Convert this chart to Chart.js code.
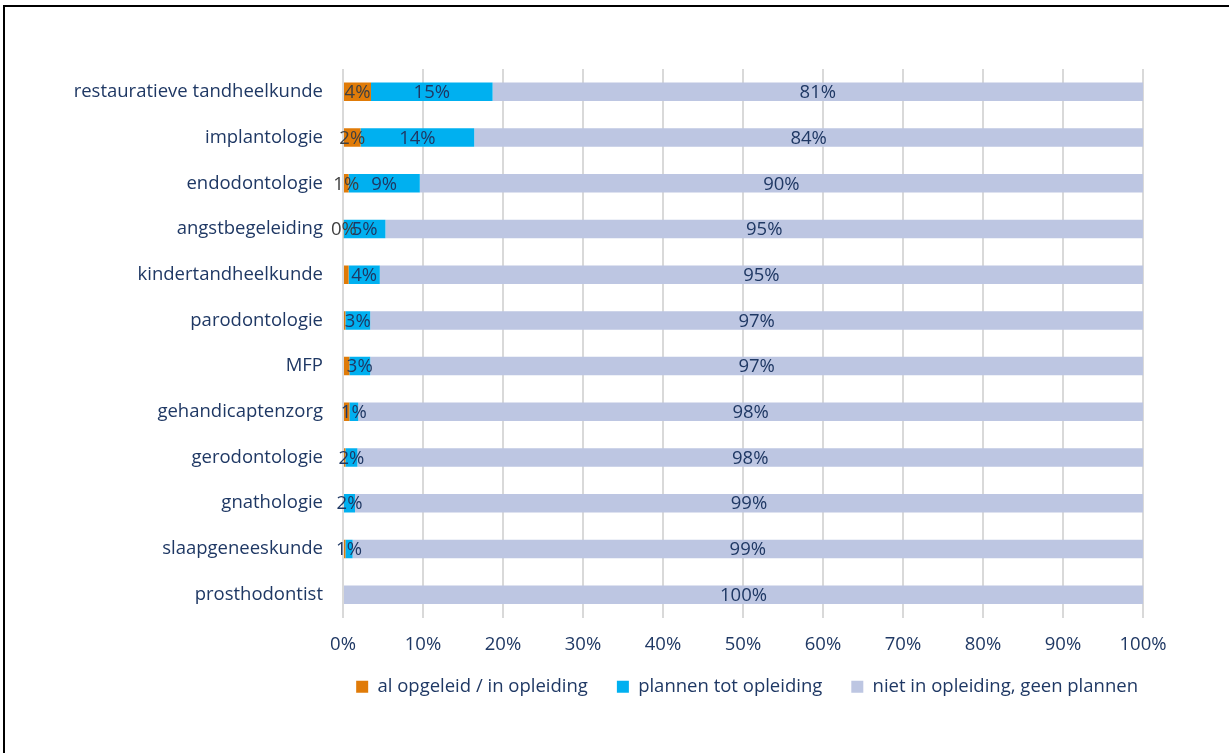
<!DOCTYPE html>
<html>
<head>
<meta charset="utf-8">
<script src="https://cdn.jsdelivr.net/npm/chart.js@4/dist/chart.umd.min.js"></script>
<style>
  html, body { margin: 0; padding: 0; background: #fff; }
  #wrap { width: 1229px; height: 753px; position: relative; }
</style>
</head>
<body>
<div id="wrap"><canvas id="chart" width="1229" height="753"></canvas></div>
<script>
const categories = [
  "restauratieve tandheelkunde", "implantologie", "endodontologie", "angstbegeleiding",
  "kindertandheelkunde", "parodontologie", "MFP", "gehandicaptenzorg",
  "gerodontologie", "gnathologie", "slaapgeneeskunde", "prosthodontist"
];
const seriesNames = ["al opgeleid / in opleiding", "plannen tot opleiding", "niet in opleiding, geen plannen"];

const opgeleid = [3.5, 2.2, 0.7, 0.1, 0.7, 0.3, 0.8, 0.8, 0.3, 0, 0.3, 0];
const plannen = [15.2, 14.2, 8.9, 5.2, 3.9, 3.1, 2.6, 1.1, 1.5, 1.5, 0.9, 0];
const geenPlannen = [81.3, 83.6, 90.4, 94.7, 95.4, 96.6, 96.6, 98.1, 98.2, 98.5, 98.8, 100];
// labels of the orange series that are visible in the picture
const opgeleidLabels = ["4%", "2%", "1%", "0%", "", "", "", "", "", "", "", ""];

const xTicks = [0, 10, 20, 30, 40, 50, 60, 70, 80, 90, 100];

const navy = "#1F3864";
const fontFam = "'Open Sans', sans-serif";
const fontSize = 18.5;

// the black frame lines at top and left
const framePlugin = {
  id: "frame",
  beforeDraw(chart) {
    const ctx = chart.ctx;
    ctx.save();
    ctx.fillStyle = "#fff";
    ctx.fillRect(0, 0, chart.width, chart.height);
    ctx.fillStyle = "#000";
    ctx.fillRect(3, 5, chart.width, 2);
    ctx.fillRect(3, 5, 2, chart.height);
    ctx.restore();
  }
};

// nudge the legend a little up and right, like the original
const legendShift = {
  id: "legendShift",
  afterLayout(chart) {
    const lg = chart.legend;
    if (!lg) return;
    lg.top -= 11; lg.bottom -= 11;
    lg.left += 24; lg.right += 24;
  }
};

// value labels centred on each segment
const labelPlugin = {
  id: "segLabels",
  afterDatasetsDraw(chart) {
    const ctx = chart.ctx;
    ctx.save();
    ctx.font = fontSize + "px " + fontFam;
    ctx.textAlign = "center";
    ctx.textBaseline = "middle";
    chart.data.datasets.forEach((ds, di) => {
      const meta = chart.getDatasetMeta(di);
      meta.data.forEach((bar, i) => {
        let txt;
        if (di === 0) {
          txt = opgeleidLabels[i];
        } else {
          txt = ds.data[i] > 0 ? Math.round(ds.data[i]) + "%" : "";
        }
        if (!txt) return;
        ctx.fillStyle = di === 0 ? "#404040" : navy;
        ctx.fillText(txt, (bar.x + bar.base) / 2, bar.y + 1);
      });
    });
    ctx.restore();
  }
};

new Chart(document.getElementById("chart"), {
  type: "bar",
  data: {
    labels: categories,
    datasets: [
      { label: seriesNames[0], data: opgeleid, backgroundColor: "#E07B08" },
      { label: seriesNames[1], data: plannen, backgroundColor: "#00B0F0" },
      { label: seriesNames[2], data: geenPlannen, backgroundColor: "#BDC6E2" }
    ]
  },
  options: {
    indexAxis: "y",
    responsive: false,
    animation: false,
    barPercentage: 0.405,
    categoryPercentage: 1,
    layout: { padding: { top: 69, right: 86, left: 10, bottom: 36 } },
    scales: {
      x: {
        stacked: true,
        min: 0,
        max: 100,
        afterBuildTicks(axis) {
          axis.ticks = xTicks.map(v => ({ value: v }));
        },
        afterFit(axis) { axis.height = 42; },
        grid: { color: "#D9D9D9", lineWidth: 2, drawTicks: false },
        border: { display: false },
        ticks: {
          padding: 16,
          color: navy,
          font: { family: fontFam, size: fontSize },
          callback: v => v + "%"
        }
      },
      y: {
        stacked: true,
        afterFit(axis) { axis.width = 333; },
        grid: { display: false, drawTicks: false },
        border: { display: false },
        ticks: {
          padding: 20,
          color: navy,
          font: { family: fontFam, size: fontSize }
        }
      }
    },
    plugins: {
      tooltip: { enabled: false },
      legend: {
        position: "bottom",
        align: "end",
        labels: {
          boxWidth: 12,
          boxHeight: 12,
          padding: 29,
          color: navy,
          font: { family: fontFam, size: fontSize }
        }
      }
    }
  },
  plugins: [framePlugin, legendShift, labelPlugin]
});
</script>
</body>
</html>
